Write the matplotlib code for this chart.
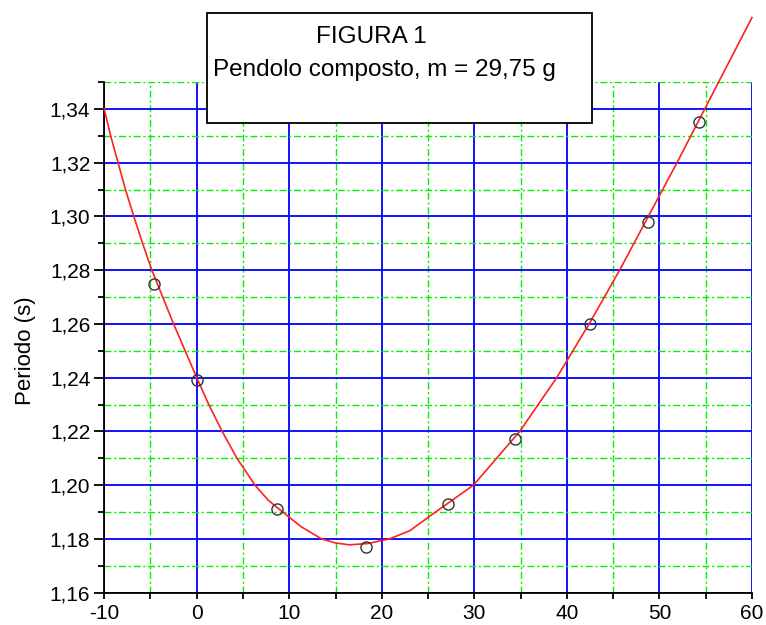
import matplotlib
matplotlib.use("Agg")
import matplotlib.pyplot as plt
from matplotlib.patches import Rectangle
from matplotlib.ticker import MultipleLocator, FuncFormatter

plt.rcParams['font.family'] = ['Liberation Sans', 'DejaVu Sans']
plt.rcParams['axes.unicode_minus'] = False

# misure (posizione, periodo)
x_pts = [-4.6, 0.0, 8.7, 18.3, 27.2, 34.4, 42.5, 48.8, 54.3]
y_pts = [1.275, 1.239, 1.191, 1.177, 1.193, 1.217, 1.260, 1.298, 1.335]

# curva di fit
x_fit = [-10.0, -9.3, -8.5, -7.7, -6.8, -5.85, -4.85, -2.5, 0.0, 1.3, 2.75,
         4.35, 6.3, 7.7, 9.3, 11.3, 13.5, 15.0, 16.5, 18.5, 20.8, 23.0, 25.8,
         29.9, 32.4, 34.9, 38.9, 42.4, 45.7, 48.8, 51.9, 54.9, 60.0]
y_fit = [1.340, 1.330, 1.320, 1.310, 1.300, 1.290, 1.280, 1.260, 1.240, 1.230,
         1.220, 1.210, 1.200, 1.1945, 1.190, 1.1845, 1.180, 1.1785, 1.1778,
         1.1783, 1.180, 1.183, 1.190, 1.200, 1.210, 1.220, 1.240, 1.260,
         1.280, 1.300, 1.320, 1.340, 1.374]

titolo = "FIGURA 1"
sottotitolo = "Pendolo composto, m = 29,75 g"
ylabel = "Periodo (s)"

fig = plt.figure(figsize=(7.66, 6.25), dpi=100)
ax = fig.add_axes([0.136, 0.0517, 0.8457, 0.8171])

ax.set_xlim(-10, 60)
ax.set_ylim(1.16, 1.35)

ax.xaxis.set_major_locator(MultipleLocator(10))
ax.xaxis.set_minor_locator(MultipleLocator(5))
ax.yaxis.set_major_locator(MultipleLocator(0.02))
ax.yaxis.set_minor_locator(MultipleLocator(0.01))
ax.yaxis.set_major_formatter(FuncFormatter(lambda v, p: f"{v:.2f}".replace(".", ",") if v < 1.345 else ""))

ax.grid(True, which='major', color='#0000ff', linewidth=1.3, linestyle='-')
ax.grid(True, which='minor', color='#00f000', linewidth=1.0, linestyle=(0, (5, 2, 1.5, 2)))
ax.set_axisbelow(True)

for s in ['top', 'right']:
    ax.spines[s].set_visible(False)
for s in ['left', 'bottom']:
    ax.spines[s].set_linewidth(1.3)

ax.tick_params(axis='y', which='major', direction='out', length=7, width=1.3, labelsize=15, pad=3)
ax.tick_params(axis='y', which='minor', direction='out', length=4, width=1.3)
ax.tick_params(axis='x', which='both', direction='out', length=4.5, width=1.3, labelsize=15, pad=4)

ax.plot(x_fit, y_fit, color='#ff2020', linewidth=1.2, clip_on=False, zorder=3)
ax.plot(x_pts, y_pts, linestyle='none', marker='o', markersize=8,
        markerfacecolor='none', markeredgecolor='#333333', markeredgewidth=1.0, zorder=4)

ax.set_ylabel(ylabel, fontsize=16)
ax.yaxis.set_label_coords(-0.105, 0.4737)

box = Rectangle((0.2702, 0.8027), 0.5026, 0.176, transform=fig.transFigure,
                facecolor='white', edgecolor='black', linewidth=1.3, zorder=10)
fig.patches.append(box)
fig.text(0.4843, 0.9408, titolo, ha='center', va='center', fontsize=17.5, zorder=11)
fig.text(0.278, 0.888, sottotitolo, ha='left', va='center', fontsize=17.5, zorder=11)

fig.savefig("out.png", dpi=100)
